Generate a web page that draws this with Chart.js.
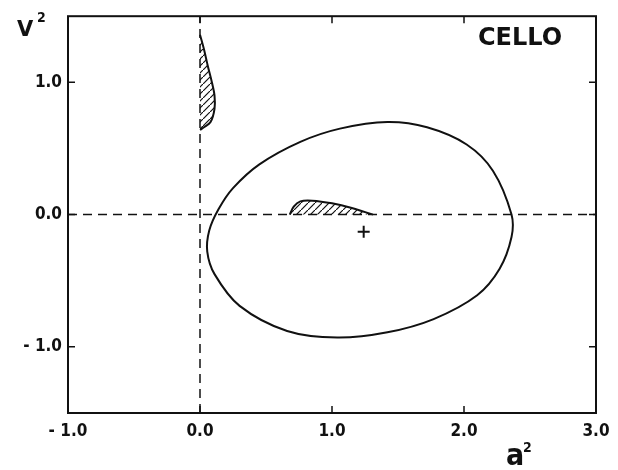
<!DOCTYPE html>
<html>
<head>
<meta charset="utf-8">
<script src="https://cdn.jsdelivr.net/npm/chart.js@4.4.1/dist/chart.umd.min.js"></script>
<style>
  html, body { margin: 0; padding: 0; background: #fff; }
</style>
</head>
<body>
<canvas id="chart" width="618" height="470"></canvas>
<script>
// axis ticks
const xTicks = [-1, 0, 1, 2, 3];
const xTickLabels = ["- 1.0", "0.0", "1.0", "2.0", "3.0"];
const yTicks = [-1, 0, 1];
const yTickLabels = ["- 1.0", "0.0", "1.0"];

// allowed contour (closed curve).
// first and last points only give the spline its tangents at the join (segments hidden)
const ellipseX = [1.06, 1.42, 1.72, 2.02, 2.22, 2.36, 2.36, 2.27, 2.10, 1.77, 1.42, 1.04, 0.66, 0.30, 0.11, 0.055, 0.07, 0.14, 0.25, 0.45, 0.76, 1.06, 1.42, 1.72];
const ellipseY = [0.65, 0.70, 0.66, 0.53, 0.33, 0.00, -0.17, -0.41, -0.61, -0.79, -0.89, -0.93, -0.88, -0.69, -0.45, -0.28, -0.12, 0.04, 0.20, 0.38, 0.55, 0.65, 0.70, 0.66];

// hatched region near a2 = 0
const hatchAX = [0.00, 0.03, 0.06, 0.09, 0.11, 0.11, 0.08, 0.03, 0.00];
const hatchAY = [1.36, 1.25, 1.12, 1.00, 0.90, 0.80, 0.70, 0.66, 0.64];

// hatched region on v2 = 0
const hatchBX = [0.68, 0.71, 0.76, 0.85, 1.00, 1.15, 1.31];
const hatchBY = [0.00, 0.06, 0.10, 0.105, 0.085, 0.05, 0.00];

// best fit point
const bestX = [1.24];
const bestY = [-0.13];

const toPts = (xs, ys) => xs.map((x, i) => ({ x: x, y: ys[i] }));

function hatchPattern() {
    const c = document.createElement("canvas");
    c.width = 7;
    c.height = 7;
    const g = c.getContext("2d");
    g.strokeStyle = "#111";
    g.lineWidth = 1.2;
    g.beginPath();
    g.moveTo(-1, 8);
    g.lineTo(8, -1);
    g.stroke();
    return g.createPattern(c, "repeat");
}
const hatch = hatchPattern();

const tickFont = "'Liberation Sans Narrow', 'DejaVu Sans Condensed', sans-serif";
const font = "'DejaVu Sans', sans-serif";

const framePlugin = {
    id: "frame",
    afterDraw(chart) {
        const ctx = chart.ctx;
        const a = chart.chartArea;
        const xs = chart.scales.x, ys = chart.scales.y;
        ctx.save();
        ctx.strokeStyle = "#111";
        ctx.lineWidth = 2;
        ctx.strokeRect(a.left, a.top, a.right - a.left, a.bottom - a.top);
        ctx.lineWidth = 1.5;
        ctx.beginPath();
        xTicks.forEach(v => {
            const px = xs.getPixelForValue(v);
            ctx.moveTo(px, a.bottom); ctx.lineTo(px, a.bottom - 7);
            ctx.moveTo(px, a.top); ctx.lineTo(px, a.top + 7);
        });
        yTicks.forEach(v => {
            const py = ys.getPixelForValue(v);
            ctx.moveTo(a.left, py); ctx.lineTo(a.left + 7, py);
            ctx.moveTo(a.right, py); ctx.lineTo(a.right - 7, py);
        });
        ctx.stroke();

        ctx.fillStyle = "#111";
        ctx.textBaseline = "alphabetic";
        ctx.textAlign = "left";
        ctx.font = "bold 21px " + font;
        ctx.fillText("V", 17, 36);
        ctx.font = "bold 30px " + tickFont;
        ctx.fillText("a", 506, 465);
        ctx.font = "bold 14px " + tickFont;
        ctx.fillText("2", 37, 22);
        ctx.fillText("2", 523, 452);
        ctx.font = "bold 24px " + font;
        ctx.textAlign = "center";
        ctx.fillText("CELLO", 520, 45);
        ctx.restore();
    }
};

const lastSeg = ellipseX.length - 1;

new Chart(document.getElementById("chart").getContext("2d"), {
    type: "scatter",
    data: {
        datasets: [
            {
                data: toPts(bestX, bestY),
                pointStyle: "cross",
                pointRadius: 6,
                pointBorderWidth: 2,
                borderColor: "#111"
            },
            {
                data: toPts(ellipseX, ellipseY),
                showLine: true,
                tension: 0.33,
                borderColor: "#111",
                borderWidth: 2,
                pointRadius: 0,
                segment: {
                    borderColor: c => (c.p0DataIndex === 0 || c.p1DataIndex === lastSeg) ? "rgba(0,0,0,0)" : "#111"
                }
            },
            {
                data: toPts(hatchAX, hatchAY),
                showLine: true,
                tension: 0.33,
                borderColor: "#111",
                borderWidth: 2,
                pointRadius: 0
            },
            {
                data: toPts(hatchAX, hatchAY),
                showLine: true,
                tension: 0.33,
                borderWidth: 0,
                pointRadius: 0,
                fill: "shape",
                backgroundColor: hatch
            },
            {
                data: toPts(hatchBX, hatchBY),
                showLine: true,
                tension: 0.33,
                borderColor: "#111",
                borderWidth: 2,
                pointRadius: 0
            },
            {
                data: toPts(hatchBX, hatchBY),
                showLine: true,
                tension: 0.33,
                borderWidth: 0,
                pointRadius: 0,
                fill: "shape",
                backgroundColor: hatch
            },
            {
                data: [{ x: -1, y: 0 }, { x: 3, y: 0 }],
                showLine: true,
                borderColor: "#111",
                borderWidth: 1.5,
                borderDash: [9, 6],
                pointRadius: 0
            },
            {
                data: [{ x: 0, y: -1.5 }, { x: 0, y: 1.5 }],
                showLine: true,
                borderColor: "#111",
                borderWidth: 1.5,
                borderDash: [9, 6],
                pointRadius: 0
            }
        ]
    },
    options: {
        responsive: false,
        animation: false,
        layout: { padding: { top: 7, right: 22, left: 0, bottom: 0 } },
        plugins: {
            legend: { display: false },
            tooltip: { enabled: false }
        },
        scales: {
            x: {
                type: "linear",
                min: -1,
                max: 3,
                grid: { display: false, drawTicks: false },
                border: { display: false },
                afterBuildTicks: s => { s.ticks = xTicks.map(v => ({ value: v })); },
                afterFit: s => { s.height = 57; },
                ticks: {
                    color: "#111",
                    padding: 8,
                    font: { family: tickFont, size: 17, weight: "bold" },
                    maxRotation: 0,
                    callback: v => xTickLabels[xTicks.indexOf(v)]
                }
            },
            y: {
                type: "linear",
                min: -1.5,
                max: 1.5,
                grid: { display: false, drawTicks: false },
                border: { display: false },
                afterBuildTicks: s => { s.ticks = yTicks.map(v => ({ value: v })); },
                afterFit: s => { s.width = 68; },
                ticks: {
                    color: "#111",
                    padding: 6,
                    font: { family: tickFont, size: 17, weight: "bold" },
                    callback: v => yTickLabels[yTicks.indexOf(v)]
                }
            }
        }
    },
    plugins: [framePlugin]
});
</script>
</body>
</html>
